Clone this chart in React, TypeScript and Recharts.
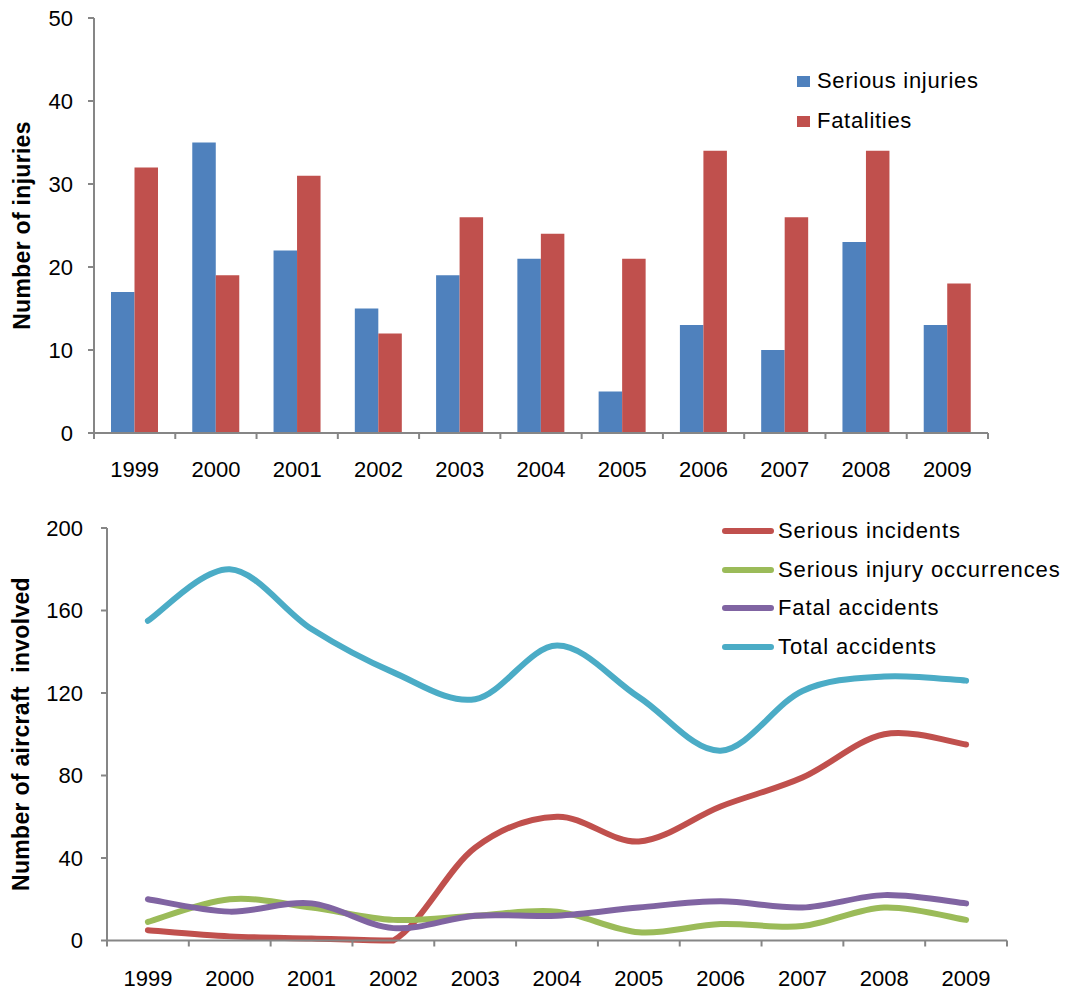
import React from "react";
import { BarChart, Bar, LineChart, Line, XAxis, YAxis } from "recharts";

const years = ["1999", "2000", "2001", "2002", "2003", "2004", "2005", "2006", "2007", "2008", "2009"];

// top chart: number of injuries
const seriousInjuries = [17, 35, 22, 15, 19, 21, 5, 13, 10, 23, 13];
const fatalities = [32, 19, 31, 12, 26, 24, 21, 34, 26, 34, 18];
const injuryTicks = [0, 10, 20, 30, 40, 50];

// bottom chart: number of aircraft involved
const seriousIncidents = [5, 2, 1, 0, 45, 60, 48, 65, 79, 100, 95];
const seriousInjuryOccurrences = [9, 20, 16, 10, 12, 14, 4, 8, 7, 16, 10];
const fatalAccidents = [20, 14, 18, 6, 12, 12, 16, 19, 16, 22, 18];
const totalAccidents = [155, 180, 151, 130, 117, 143, 118, 92, 121, 128, 126];
const aircraftTicks = [0, 40, 80, 120, 160, 200];

const barSeries = [
  { key: "injuries", name: "Serious injuries", color: "#4F81BD" },
  { key: "fatalities", name: "Fatalities", color: "#C0504D" },
];

const lineSeries = [
  { key: "incidents", name: "Serious incidents", color: "#C0504D" },
  { key: "injuryOcc", name: "Serious injury occurrences", color: "#9BBB59" },
  { key: "fatal", name: "Fatal accidents", color: "#8064A2" },
  { key: "total", name: "Total accidents", color: "#4BACC6" },
];

const barData = years.map((year, i) => ({
  year,
  injuries: seriousInjuries[i],
  fatalities: fatalities[i],
}));

const lineData = years.map((year, i) => ({
  year,
  incidents: seriousIncidents[i],
  injuryOcc: seriousInjuryOccurrences[i],
  fatal: fatalAccidents[i],
  total: totalAccidents[i],
}));

const FONT = "'Liberation Sans', Arial, sans-serif";
const AXIS = "#868686";
const WIDTH = 1070;

// bottom chart layout
const BOT_HEIGHT = 502;
const BOT_TOP = 38;
const BOT_XAXIS = 51.5;
const BOT_FLOOR = BOT_HEIGHT - BOT_XAXIS; // pixel of value 0

// Excel-like smoothed line (Catmull-Rom through every point),
// control points kept from going under the zero line
const excelSmooth = (floorY: number) => (context: any) => {
  let pts: [number, number][] = [];
  return {
    areaStart() {},
    areaEnd() {},
    lineStart() {
      pts = [];
    },
    lineEnd() {
      if (!pts.length) return;
      context.moveTo(pts[0][0], pts[0][1]);
      for (let i = 0; i < pts.length - 1; i++) {
        const p0 = pts[i - 1] || pts[i];
        const p1 = pts[i];
        const p2 = pts[i + 1];
        const p3 = pts[i + 2] || p2;
        context.bezierCurveTo(
          p1[0] + (p2[0] - p0[0]) / 6,
          Math.min(floorY, p1[1] + (p2[1] - p0[1]) / 6),
          p2[0] - (p3[0] - p1[0]) / 6,
          Math.min(floorY, p2[1] - (p3[1] - p1[1]) / 6),
          p2[0],
          p2[1]
        );
      }
    },
    point(x: number, y: number) {
      pts.push([+x, +y]);
    },
  };
};

// category ticks sit between the categories, labels in the middle
const makeCategoryTick = (band: number, labelDrop: number) => (props: any) => {
  const { x, y, payload, index } = props;
  return (
    <g>
      <line x1={x - band / 2} x2={x - band / 2} y1={y} y2={y + 6} stroke={AXIS} strokeWidth={2} />
      {index === years.length - 1 && (
        <line x1={x + band / 2} x2={x + band / 2} y1={y} y2={y + 6} stroke={AXIS} strokeWidth={2} />
      )}
      <text x={x} y={y + labelDrop} textAnchor="middle" fontSize={22} fontFamily={FONT} fill="#000">
        {payload.value}
      </text>
    </g>
  );
};

const axisTitle = (text: string, cx: number, cy: number) => (
  <text
    x={cx}
    y={cy}
    transform={`rotate(-90, ${cx}, ${cy})`}
    textAnchor="middle"
    dominantBaseline="central"
    fontSize={23}
    fontWeight="bold"
    fontFamily={FONT}
    letterSpacing={0.3}
    fill="#000"
    style={{ whiteSpace: "pre" }}
  >
    {text}
  </text>
);

const App = () => {
  const topLeft = 94;
  const topRight = 82;
  const topBand = (WIDTH - topLeft - topRight) / years.length;
  const botLeft = 107;
  const botRight = 63;
  const botBand = (WIDTH - botLeft - botRight) / years.length;
  const curve = excelSmooth(BOT_FLOOR);

  return (
    <div style={{ position: "absolute", left: 0, top: 0, width: WIDTH, height: 992, background: "#fff", fontFamily: FONT }}>
      <div style={{ position: "relative", width: WIDTH, height: 490 }}>
        <BarChart
          width={WIDTH}
          height={490}
          data={barData}
          margin={{ top: 18, right: topRight, left: 0, bottom: 0 }}
          barGap={0}
        >
          <XAxis
            dataKey="year"
            height={57}
            interval={0}
            tickLine={false}
            tickSize={0}
            tickMargin={0}
            axisLine={{ stroke: AXIS, strokeWidth: 2 }}
            tick={makeCategoryTick(topBand, 44)}
          />
          <YAxis
            width={topLeft}
            domain={[0, 50]}
            ticks={injuryTicks}
            interval={0}
            tickSize={6}
            tickMargin={15}
            axisLine={{ stroke: AXIS, strokeWidth: 2 }}
            tickLine={{ stroke: AXIS, strokeWidth: 2 }}
            tick={{ fontSize: 22, fill: "#000", fontFamily: FONT }}
            label={{ content: () => axisTitle("Number of injuries", 22, 225.5) }}
          />
          {barSeries.map((s) => (
            <Bar key={s.key} dataKey={s.key} name={s.name} fill={s.color} barSize={23.5} isAnimationActive={false} />
          ))}
        </BarChart>
        <div style={{ position: "absolute", left: 797, top: 61 }}>
          {barSeries.map((s) => (
            <div key={s.key} style={{ height: 40, display: "flex", alignItems: "center" }}>
              <span style={{ width: 13, height: 11, background: s.color, display: "inline-block", marginRight: 7 }} />
              <span style={{ fontSize: 22, letterSpacing: 0.7, color: "#000" }}>{s.name}</span>
            </div>
          ))}
        </div>
      </div>
      <div style={{ position: "relative", width: WIDTH, height: BOT_HEIGHT }}>
        <LineChart
          width={WIDTH}
          height={BOT_HEIGHT}
          data={lineData}
          margin={{ top: BOT_TOP, right: botRight, left: 0, bottom: 0 }}
        >
          <XAxis
            dataKey="year"
            scale="band"
            height={BOT_XAXIS}
            interval={0}
            tickLine={false}
            tickSize={0}
            tickMargin={0}
            axisLine={{ stroke: AXIS, strokeWidth: 2 }}
            tick={makeCategoryTick(botBand, 45.5)}
          />
          <YAxis
            width={botLeft}
            domain={[0, 200]}
            ticks={aircraftTicks}
            interval={0}
            tickSize={6}
            tickMargin={18}
            axisLine={{ stroke: AXIS, strokeWidth: 2 }}
            tickLine={{ stroke: AXIS, strokeWidth: 2 }}
            tick={{ fontSize: 22, fill: "#000", fontFamily: FONT }}
            label={{ content: () => axisTitle("Number of aircraft  involved", 21, 244) }}
          />
          {lineSeries.map((s) => (
            <Line
              key={s.key}
              dataKey={s.key}
              name={s.name}
              type={curve as any}
              stroke={s.color}
              strokeWidth={6}
              strokeLinecap="round"
              dot={false}
              activeDot={false}
              isAnimationActive={false}
            />
          ))}
        </LineChart>
        <div style={{ position: "absolute", left: 722, top: 21.5 }}>
          {lineSeries.map((s) => (
            <div key={s.key} style={{ height: 38.7, display: "flex", alignItems: "center" }}>
              <span
                style={{ width: 52, height: 6, borderRadius: 3, background: s.color, display: "inline-block", marginRight: 4 }}
              />
              <span style={{ fontSize: 22, letterSpacing: 0.9, color: "#000", whiteSpace: "pre" }}>{s.name}</span>
            </div>
          ))}
        </div>
      </div>
    </div>
  );
};

export default App;
